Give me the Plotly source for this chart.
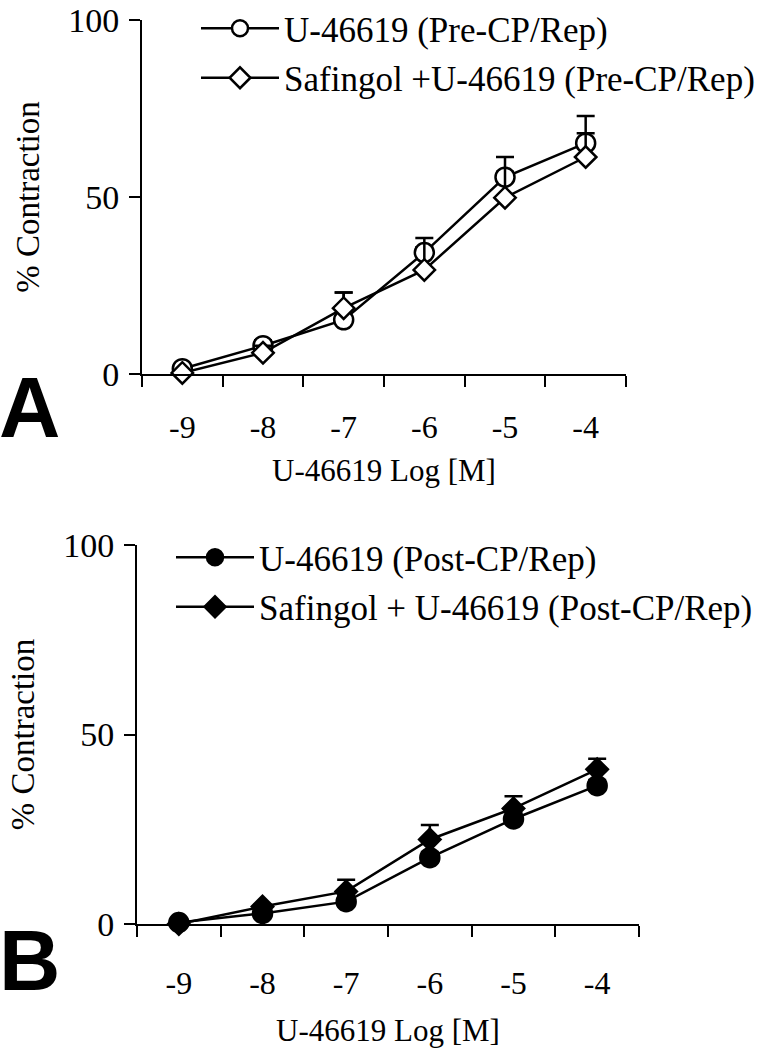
import plotly.graph_objects as go

# ---- data ----
log_conc = [-9, -8, -7, -6, -5, -4]
tick_labels = ["-9", "-8", "-7", "-6", "-5", "-4"]

pre_u = [1.5, 8.0, 15.3, 34.3, 55.6, 65.2]
pre_u_err = [0.5, 1.5, 7.7, 1.5, 1.5, 2.8]
pre_saf = [0.3, 6.0, 18.6, 29.4, 49.8, 61.3]
pre_saf_err = [0.5, 2.0, 4.4, 9.0, 11.5, 11.6]

post_u = [0.4, 2.8, 5.9, 17.5, 27.7, 36.5]
post_u_err = [0.5, 1.0, 1.5, 1.5, 1.5, 1.5]
post_saf = [0.0, 4.6, 8.6, 22.3, 30.5, 40.8]
post_saf_err = [0.3, 0.5, 3.1, 3.8, 3.2, 2.8]

names_a = ["U-46619 (Pre-CP/Rep)", "Safingol +U-46619 (Pre-CP/Rep)"]
names_b = ["U-46619 (Post-CP/Rep)", "Safingol + U-46619 (Post-CP/Rep)"]

FONT = "Liberation Serif"
W, H = 774, 1050


def px_x(x):
    return x / W


def px_y(y):
    return 1 - y / H


fig = go.Figure()


def add(x, y, err, name, symbol, fill, xa, ya, legend, group):
    fig.add_trace(go.Scatter(
        x=x, y=y, name=name, mode="lines+markers",
        xaxis=xa, yaxis=ya, legend=legend, legendgroup=group, cliponaxis=False,
        line=dict(color="black", width=2.5),
        marker=dict(symbol=symbol, size=19 if symbol == "circle" else 16.5,
                    color="black" if fill else "white",
                    line=dict(color="black", width=2.5)),
        error_y=dict(type="data", symmetric=False, array=err,
                     arrayminus=[0] * len(err), color="black",
                     thickness=2.5, width=9),
    ))


add(log_conc, pre_u, pre_u_err, names_a[0], "circle", False, "x", "y", "legend", "a1")
add(log_conc, pre_saf, pre_saf_err, names_a[1], "diamond", False, "x", "y", "legend", "a2")
add(log_conc, post_u, post_u_err, names_b[0], "circle", True, "x2", "y2", "legend2", "b1")
add(log_conc, post_saf, post_saf_err, names_b[1], "diamond", True, "x2", "y2", "legend2", "b2")


def xaxis(domain, anchor, lab_off, title_off):
    return dict(domain=domain, anchor=anchor, range=[-9.5, -3.5], automargin=False,
                tickmode="array", tickvals=log_conc, ticktext=tick_labels,
                ticks="", showline=True, linecolor="black", linewidth=2,
                showgrid=False, zeroline=False, ticklabelstandoff=lab_off,
                ticklabeloverflow="allow",
                tickfont=dict(family=FONT, size=32, color="black"),
                minor=dict(tickmode="linear", tick0=-9.5, dtick=1, ticks="outside",
                           ticklen=11, tickwidth=2, tickcolor="black", showgrid=False),
                title=dict(text="U-46619 Log [M]", standoff=title_off,
                           font=dict(family=FONT, size=31, color="black")))


def yaxis(domain, anchor):
    return dict(domain=domain, anchor=anchor, range=[0, 100], automargin=False,
                tickvals=[0, 50, 100], ticks="outside", ticklen=11, tickwidth=2,
                tickcolor="black", showline=True, linecolor="black", linewidth=2,
                showgrid=False, zeroline=False, ticklabelstandoff=3,
                ticklabeloverflow="allow",
                tickfont=dict(family=FONT, size=34, color="black"),
                title=dict(text="% Contraction", standoff=19,
                           font=dict(family=FONT, size=33, color="black")))


legend_style = dict(font=dict(family=FONT, size=35, color="black"),
                    bgcolor="rgba(0,0,0,0)", borderwidth=0, xanchor="left",
                    yanchor="top", tracegroupgap=1, itemwidth=78,
                    traceorder="grouped")

fig.update_layout(
    width=W, height=H, margin=dict(l=0, r=0, t=0, b=0, autoexpand=False),
    paper_bgcolor="white", plot_bgcolor="white",
    xaxis=xaxis([px_x(142), px_x(626)], "y", 24, 15),
    yaxis=yaxis([px_y(374), px_y(20)], "x"),
    xaxis2=xaxis([px_x(137), px_x(639)], "y2", 30, 19),
    yaxis2=yaxis([px_y(924), px_y(545)], "x2"),
    legend=dict(x=px_x(196), y=px_y(-1), **legend_style),
    legend2=dict(x=px_x(171), y=px_y(528), **legend_style),
    showlegend=True,
    annotations=[
        dict(text="<b>A</b>", x=px_x(-3), y=px_y(358), xref="paper", yref="paper",
             xanchor="left", yanchor="top", showarrow=False,
             font=dict(family="Liberation Sans", size=85, color="black")),
        dict(text="<b>B</b>", x=px_x(-3), y=px_y(911), xref="paper", yref="paper",
             xanchor="left", yanchor="top", showarrow=False,
             font=dict(family="Liberation Sans", size=85, color="black")),
    ],
)

fig.write_html("out.html", config={"displayModeBar": False},
               post_script="document.body.style.margin='0';")
